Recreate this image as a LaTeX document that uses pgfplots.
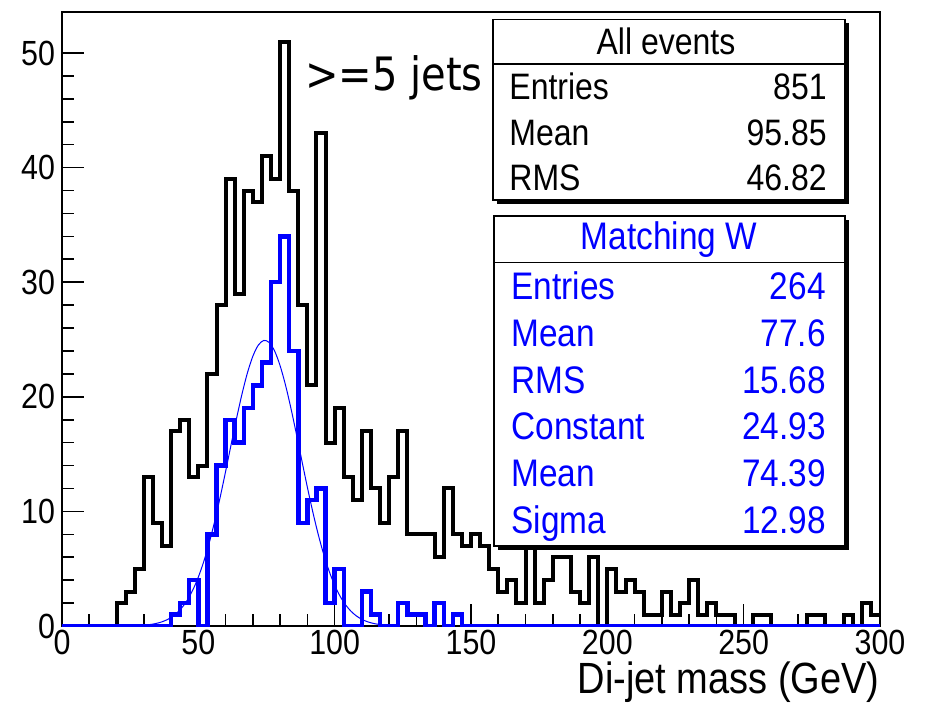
\documentclass[border=0pt]{standalone}
\usepackage{fontspec}
\setmainfont{Liberation Sans}
\newfontfamily\jetfont{DejaVu Sans}
\usepackage{graphicx}
\usepackage{pgfplots}
\usepackage{pgfplotstable}
\pgfplotsset{compat=1.18}
\definecolor{rootblue}{RGB}{0,0,255}
\newcommand{\st}[1]{\scalebox{1}[1.15]{#1}}

% bin left edge, all events, matching W
\pgfplotstableread{
x all w
0 0 0
3.333 0 0
6.667 0 0
10 0 0
13.333 0 0
16.667 0 0
20 2 0
23.333 3 0
26.667 5 0
30 13 0
33.333 9 0
36.667 7 0
40 17 1
43.333 18 2
46.667 13 4
50 14 0
53.333 22 8
56.667 28 14
60 39 18
63.333 29 16
66.667 38 19
70 37 21
73.333 41 23
76.667 39 30
80 51 34
83.333 38 24
86.667 28 9
90 21 11
93.333 43 12
96.667 16 2
100 19 5
103.333 13 0
106.667 11 0
110 17 3
113.333 12 1
116.667 9 0
120 13 0
123.333 17 2
126.667 8 1
130 8 1
133.333 8 0
136.667 6 2
140 12 0
143.333 8 1
146.667 7 0
150 8 0
153.333 7 0
156.667 5 0
160 3 0
163.333 4 0
166.667 2 0
170 7 0
173.333 2 0
176.667 4 0
180 6 0
183.333 6 0
186.667 3 0
190 2 0
193.333 6 0
196.667 0 0
200 5 0
203.333 3 0
206.667 4 0
210 3 0
213.333 1 0
216.667 1 0
220 3 0
223.333 1 0
226.667 2 0
230 4 0
233.333 1 0
236.667 2 0
240 1 0
243.333 1 0
246.667 0 0
250 0 0
253.333 1 0
256.667 1 0
260 0 0
263.333 0 0
266.667 0 0
270 0 0
273.333 1 0
276.667 1 0
280 0 0
283.333 0 0
286.667 1 0
290 0 0
293.333 2 0
296.667 1 0
300 1 0
}\dijet

\newcommand{\fa}{\fontsize{16}{19}\selectfont}
\newcommand{\fb}{\fontsize{16.7}{20}\selectfont}

\begin{document}
\begin{tikzpicture}
\path[use as bounding box] (0,0) rectangle (462.5pt,351.5pt);
\begin{axis}[
  at={(31pt,38.5pt)}, anchor=south west,
  scale only axis, width=409pt, height=307pt,
  xmin=0, xmax=300, ymin=0, ymax=53.58,
  xtick distance=50, ytick distance=10,
  minor x tick num=4, minor y tick num=4,
  tick pos=left, tick align=inside,
  major tick length=11pt, minor tick length=5.8pt,
  tick style={black, line width=0.8pt},
  axis line style={line width=0.6pt},
  /pgf/number format/assume math mode=true,
  ticklabel style={font=\fontsize{15.2}{18}\selectfont},
  xticklabel style={inner sep=0pt, yshift=-2pt},
  xticklabel={\st{\pgfmathprintnumber{\tick}}},
  yticklabel={\st{\pgfmathprintnumber{\tick}}},
]
\draw[line width=1.5pt] (rel axis cs:0,0) -- (rel axis cs:0,1);
\draw[line width=1.5pt] (rel axis cs:0,0) -- (rel axis cs:1,0);
\addplot[const plot, black, line width=2pt] table[x=x, y=all] {\dijet};
\addplot[const plot, rootblue, line width=2.2pt] table[x=x, y=w] {\dijet};
% gaussian fit
\addplot[rootblue, line width=0.5pt, smooth] coordinates {
(30,0.072) (32,0.120) (34,0.197) (36,0.314) (38,0.490) (40,0.745)
(42,1.108) (44,1.608) (46,2.280) (48,3.156) (50,4.268) (52,5.632)
(54,7.260) (56,9.137) (58,11.233) (60,13.485) (62,15.808) (64,18.097)
(66,20.231) (68,22.085) (70,23.544) (72,24.511) (74,24.919) (76,24.739)
(78,23.984) (80,22.706) (82,20.994) (84,18.955) (86,16.711) (88,14.387)
(90,12.096) (92,9.932) (94,7.963) (96,6.235) (98,4.767) (100,3.560)
(102,2.595) (104,1.848) (106,1.285) (108,0.873) (110,0.579) (112,0.375)
(114,0.237) (116,0.146) (118,0.088) (120,0.052)
};
\end{axis}

\begin{scope}[x=0.5pt, y=-0.5pt, yshift=351.5pt]
  \node[anchor=base east, inner sep=0pt, font=\fontsize{19}{22}\selectfont] at (880,693) {\st{Di-jet mass (GeV)}};
  \node[anchor=base west, inner sep=0pt, font=\jetfont\fontsize{20}{24}\selectfont] at (305,91) {\st{>=5 jets}};
  % all events box
  \fill (496.5,23) rectangle (848.5,203.5);
  \draw[fill=white, line width=0.6pt] (493,19.5) rectangle (845,200);
  \draw[line width=0.6pt] (493,64) -- (845,64);
  \node[anchor=base, inner sep=0pt, font=\fa] at (666,54.5) {\st{All events}};
  \node[anchor=base west, inner sep=0pt, font=\fa] at (509,99.5) {\st{Entries}};
  \node[anchor=base east, inner sep=0pt, font=\fa] at (827,99.5) {\st{851}};
  \node[anchor=base west, inner sep=0pt, font=\fa] at (509,145.5) {\st{Mean}};
  \node[anchor=base east, inner sep=0pt, font=\fa] at (827,145.5) {\st{95.85}};
  \node[anchor=base west, inner sep=0pt, font=\fa] at (509,190.5) {\st{RMS}};
  \node[anchor=base east, inner sep=0pt, font=\fa] at (827,190.5) {\st{46.82}};
  % matching W box
  \fill (497.5,219.5) rectangle (848.5,549.5);
  \draw[fill=white, line width=0.6pt] (494,216) rectangle (845,546);
  \draw[line width=0.6pt] (494,262.5) -- (845,262.5);
  \begin{scope}[every node/.style={inner sep=0pt, font=\fb, text=rootblue}]
  \node[anchor=base] at (669,249.5) {\st{Matching W}};
  \node[anchor=base west] at (511,299.5) {\st{Entries}};
  \node[anchor=base east] at (826,299.5) {\st{264}};
  \node[anchor=base west] at (511,346.3) {\st{Mean}};
  \node[anchor=base east] at (826,346.3) {\st{77.6}};
  \node[anchor=base west] at (511,393.1) {\st{RMS}};
  \node[anchor=base east] at (826,393.1) {\st{15.68}};
  \node[anchor=base west] at (511,439.9) {\st{Constant}};
  \node[anchor=base east] at (826,439.9) {\st{24.93}};
  \node[anchor=base west] at (511,486.7) {\st{Mean}};
  \node[anchor=base east] at (826,486.7) {\st{74.39}};
  \node[anchor=base west] at (511,533.5) {\st{Sigma}};
  \node[anchor=base east] at (826,533.5) {\st{12.98}};
  \end{scope}
\end{scope}
\end{tikzpicture}
\end{document}
